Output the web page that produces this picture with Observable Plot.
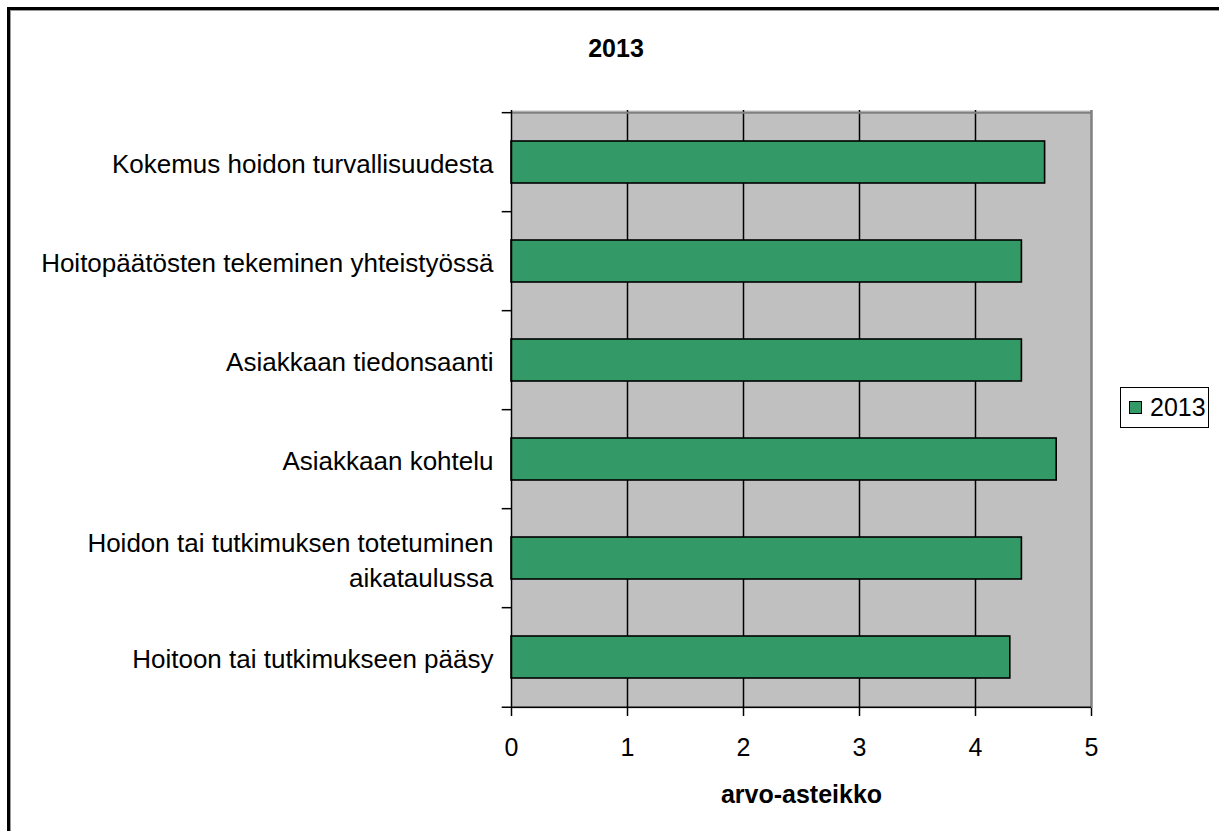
<!DOCTYPE html>
<html>
<head>
<meta charset="utf-8">
<script src="https://cdn.jsdelivr.net/npm/d3@7"></script>
<script src="https://cdn.jsdelivr.net/npm/@observablehq/plot@0.6"></script>
<style>
  html, body { margin: 0; padding: 0; background: #fff; overflow: hidden; }
  #wrap { position: relative; width: 1219px; height: 831px; font-family: "Liberation Sans", Arial, sans-serif; }
  #frame { position: absolute; left: 7px; top: 7px; width: 1240px; height: 860px; border: 3px solid #000; box-shadow: inset 1px 1px 0 #999; }
  #chart { position: absolute; left: 0; top: 0; }
  #title { position: absolute; left: 616px; top: 36px; transform: translateX(-50%); font-size: 25px; line-height: 25px; font-weight: bold; color: #000; white-space: nowrap; }
  #legend { position: absolute; left: 1120px; top: 387px; width: 87px; height: 39px; border: 1.5px solid #000; background: #fff; display: flex; align-items: center; box-sizing: content-box; }
  #legend .sw { width: 11px; height: 11px; background: #339966; border: 1px solid #000; margin-left: 8px; margin-right: 8px; }
  #legend .lb { font-size: 25px; line-height: 25px; }
</style>
</head>
<body>
<div id="wrap">
  <div id="frame"></div>
  <div id="chart"></div>
  <div id="title"></div>
  <div id="legend"><div class="sw"></div><div class="lb"></div></div>
</div>
<script>
const categories = [
  "Kokemus hoidon turvallisuudesta",
  "Hoitopäätösten tekeminen yhteistyössä",
  "Asiakkaan tiedonsaanti",
  "Asiakkaan kohtelu",
  "Hoidon tai tutkimuksen totetuminen aikataulussa",
  "Hoitoon tai tutkimukseen pääsy"
];
const categoryLabels = [
  "Kokemus hoidon turvallisuudesta",
  "Hoitopäätösten tekeminen yhteistyössä",
  "Asiakkaan tiedonsaanti",
  "Asiakkaan kohtelu",
  "Hoidon tai tutkimuksen totetuminen\naikataulussa",
  "Hoitoon tai tutkimukseen pääsy"
];
const values2013 = [4.6, 4.4, 4.4, 4.7, 4.4, 4.3];
const xTicks = [0, 1, 2, 3, 4, 5];
const gridValues = [1, 2, 3, 4];
const seriesName = "2013";
const chartTitle = "2013";
const axisTitle = "arvo-asteikko";

const data = categories.map((c, i) => ({category: c, label: categoryLabels[i], value: values2013[i]}));

const W = 1219, H = 831;
const mL = 511, mR = 128, mT = 110, mB = 123;
const step = (H - mT - mB) / categories.length;
const green = "#339966";

document.getElementById("title").textContent = chartTitle;
document.querySelector("#legend .lb").textContent = seriesName;

const chart = Plot.plot({
  width: W,
  height: H,
  marginLeft: mL,
  marginRight: mR,
  marginTop: mT,
  marginBottom: mB,
  style: {fontFamily: "'Liberation Sans', Arial, sans-serif", fontSize: "25px", background: "transparent", color: "#000"},
  x: {domain: [0, 5], axis: null, label: null},
  y: {type: "band", domain: categories, paddingInner: 0.58, paddingOuter: 0.29, axis: null, label: null},
  marks: [
    Plot.frame({fill: "#c0c0c0", stroke: null}),
    Plot.ruleX(gridValues, {stroke: "#000", strokeWidth: 1.5}),
    Plot.ruleX([5], {stroke: "#808080", strokeWidth: 2.5}),
    Plot.ruleY([categories[0]], {x1: 0, x2: 5, dy: -step / 2, stroke: "#808080", strokeWidth: 2}),
    Plot.barX(data, {x: "value", y: "category", fill: green, stroke: "#000", strokeWidth: 1.6}),
    Plot.ruleX([0], {stroke: "#000", strokeWidth: 1.5}),
    Plot.ruleY([categories[categories.length - 1]], {x1: -0.08, x2: 5, dy: step / 2, stroke: "#000", strokeWidth: 1.5}),
    Plot.ruleY(categories, {x1: -0.08, x2: 0, dy: -step / 2, stroke: "#000", strokeWidth: 1.5}),
    Plot.axisX(xTicks, {tickSize: 8, tickPadding: 22, fontSize: 25, strokeWidth: 1.5, label: null, tickFormat: d => String(d)}),
    Plot.text(data, {y: "category", text: "label", frameAnchor: "left", textAnchor: "end", dx: -18, lineHeight: 1.32, fontSize: 26, fill: "#000"}),
    Plot.text([axisTitle], {frameAnchor: "bottom", lineAnchor: "top", dy: 77, fontWeight: "bold", fontSize: 25, fill: "#000"})
  ]
});
document.getElementById("chart").appendChild(chart);
</script>
</body>
</html>
